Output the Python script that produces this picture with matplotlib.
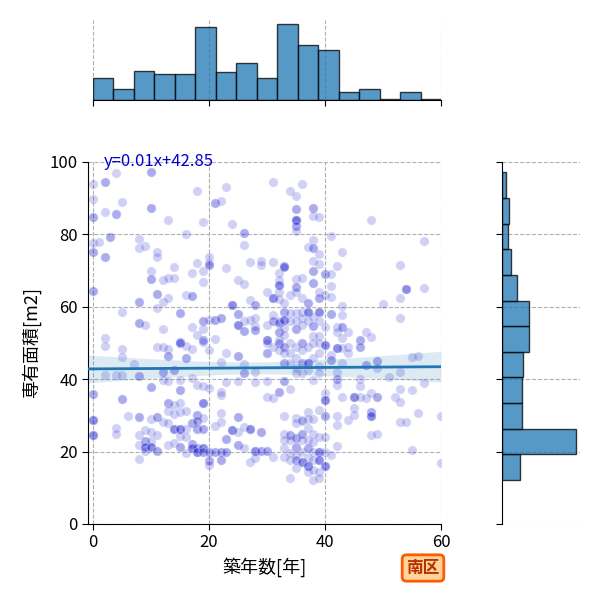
"""Joint plot: building age vs. floor area, with marginal histograms (南区)."""

import matplotlib

matplotlib.use("Agg")
import matplotlib.pyplot as plt
import numpy as np

plt.rcParams["font.family"] = ["Noto Sans CJK JP", "DejaVu Sans"]

# Scatter data: floor area [m2] per building age [year].
AGE_VALUES = [0, 1, 2, 3, 4, 5, 6, 7, 8, 9, 10, 11, 12, 13, 14, 15, 16, 17, 18, 19,
              20, 21, 22, 23, 24, 25, 26, 27, 28, 29, 30, 31, 32, 33, 34, 35, 36, 37,
              38, 39, 40, 41, 42, 43, 44, 45, 46, 47, 48, 49, 50, 51, 52, 53, 54, 55,
              56, 57, 60]
AREA_BY_AGE = [
    [94, 89.8, 84.9, 84.9, 77.5, 75, 75, 64.3, 64.3, 35.9, 35.9, 28.6, 28.6, 28.6, 24.6, 24.6, 24.6],
    [77.8],
    [94.4, 94.4, 86.1, 73.7, 73.7, 51.5, 49.2, 41.2],
    [79.3, 79.3],
    [96.9, 85.6, 85.6, 41.2, 26.4, 25],
    [88.9, 58.7, 48.3, 46.2, 41.2, 34.4, 34.4],
    [29.9],
    [44.2],
    [78.7, 76.2, 61.3, 61.3, 55.4, 55.4, 40.9, 40.9, 29.6, 29.6, 24.6, 21.9, 17.9],
    [76.9, 55, 26, 22.8, 22.8, 21.4, 21.4, 21.4, 20.2],
    [97.1, 97.1, 87.3, 87.3, 70, 67.6, 67.6, 37.8, 37.8, 29, 25.5, 22.8, 21.4, 21.4, 21.4],
    [75, 73.7, 63.6, 63.6, 59.6, 48.8, 29.5, 29.5, 24.6, 20.2, 20.2],
    [67.3, 61.4, 53.9, 49, 41.9, 41.9, 39.7, 28.1],
    [84, 68, 62.3, 48.3, 46.3, 46.3, 39.6, 33.3, 33.3, 31.1, 28, 21.7],
    [71, 68, 42.5, 42.5, 32.9, 30.5, 26.2, 26.2, 26.2, 22.4],
    [58.4, 58.4, 50.4, 50.4, 49.9, 49.9, 39.7, 36.9, 36.9, 33.5, 30.9, 26.2, 26.2, 26.2, 24.3,
     21.2, 21.2],
    [80, 63.3, 49.2, 45.8, 45.8, 31.3, 26.2, 23.9, 19.7],
    [69.3, 62.9, 62.9, 54.4, 48.3, 40.4, 27.9, 27.9, 22.1, 22.1, 21.1, 21.1, 21.1],
    [92, 72.2, 52.2, 38.5, 30.1, 30.1, 28.5, 28.5, 26.2, 26.2, 20.9, 20.9, 20, 20, 20],
    [83.3, 70, 66.9, 56.1, 56.1, 54, 50.9, 50.9, 50.4, 38, 33.5, 33.5, 33.5, 29.2, 26.2, 26.2,
     21, 21, 21, 20, 20],
    [73.8, 72, 71.5, 71.5, 56.4, 48.1, 37.5, 20, 20, 17.7, 17.5, 16.4],
    [88.6, 88.6, 56.4, 56.4, 51.2, 27.1, 20, 20],
    [89.2, 56.9, 56.9, 44.8, 36.4, 35.6, 30.6, 28.3, 20, 20, 17.7, 17.7],
    [93.2, 70.8, 47.3, 39.1, 23.6, 23.6, 20, 20],
    [82.8, 60.5, 60.5, 60.5, 26, 26, 26],
    [67.4, 58, 58, 55, 55, 55, 46.4, 46.4, 39.5, 29.6, 29.6, 25.5, 21.8, 21.8],
    [80.5, 80.5, 77.1, 66.2, 56.1, 53.3, 53.3, 44.2, 41.6, 41.6, 26.7, 20.9],
    [72.4, 61.9, 56.4, 26.2, 26.2, 26.2, 17.2],
    [60.6, 60.6, 57, 54.8, 53.6, 53.6, 41.9, 39.1, 20.2, 20.2, 20.2, 18.1],
    [72.7, 71.5, 25.3, 25.3, 20.2, 20.2],
    [64, 55, 50.8, 50.8, 50.8, 49.9, 47.2, 47.2, 39.5, 35, 20.2, 20.2],
    [94.6, 72.4, 62.5, 62.5, 62.5, 57.7, 56, 56, 48.8, 34.7, 18.4],
    [69.2, 67.4, 66, 66, 66, 64, 62.2, 56, 55.4, 55.4, 53, 53, 50.8, 50, 50, 48.1, 36.6, 36.6],
    [71.3, 71.3, 71.1, 71.1, 61, 58.7, 58.7, 56.4, 56.4, 56.4, 54.2, 52.3, 49, 49, 47.1, 44.4,
     44.4, 39.6, 39.6, 29.9, 25, 23.2, 20.9, 18.6],
    [92, 63.2, 58.2, 56, 49.9, 47.1, 44.4, 37.2, 24.6, 24.6, 23.2, 19.5, 17.7, 12.6],
    [90.7, 87, 87, 84, 84, 84, 84, 82.3, 82.3, 81, 67.7, 65.6, 65.6, 64.2, 58.2, 56, 53.9, 53.9,
     49, 45.8, 43, 41.6, 29.4, 27.8, 23.7, 23.7, 21.4, 21.4, 19.1, 17.7, 17.7, 15.4],
    [94, 68, 62.5, 58.7, 56.9, 55.1, 49.9, 49.9, 48.1, 44.4, 44.4, 41.6, 28.7, 28.5, 25, 25,
     23.2, 20, 17.2, 17.2, 17.2],
    [76.6, 61, 61, 58.7, 58.7, 58.7, 56, 49, 44.4, 44.4, 44.4, 42.5, 31, 29, 26.4, 23.2, 20.9,
     20.9, 18.1, 16, 16, 16, 14.5],
    [87.4, 87.4, 85.2, 78.4, 76.2, 76.2, 72.7, 69.9, 69.9, 66.5, 66.5, 57.3, 54.6, 54.6, 51.9,
     49.9, 45.8, 39.8, 29, 25, 22.7, 20, 17.7, 15, 12.1],
    [84.8, 74.5, 71.8, 64.2, 62.4, 62.4, 58.7, 58.7, 58.7, 56, 51.9, 49.9, 47.1, 43.6, 41.6,
     31.6, 24.1, 20, 20, 20, 17.7, 17.7, 17.7, 14.5, 12.6],
    [69, 69, 63.2, 54.5, 49.4, 49.4, 49.4, 36.1, 34.2, 34.2, 34.2, 29.9, 29.9, 24, 20, 16, 16, 16],
    [79.6, 69, 65.8, 62.8, 58.1, 58.1, 46.7, 45.3, 45.3, 19],
    [71.2, 54.5, 53, 48.5, 48.5, 48.5, 42.1, 40, 40, 38.4, 29.8, 27.3, 21.6],
    [75.2, 60.3, 57.6, 54.5, 54.5, 51.5, 48.5, 44.5, 35],
    [53, 48.8, 47.1, 28.7],
    [35, 35, 35, 32, 30.1],
    [50.8, 50.8, 48.8, 48.8, 40, 38.1, 35],
    [53.1, 43.9, 43.9, 34.7],
    [83.9, 51.7, 36.3, 31, 31, 29.8, 29.8, 29.8, 24.6],
    [45.1, 45.1, 43, 35, 35, 24.9],
    [60.7],
    [40.7],
    [35],
    [71.5, 62.3, 57, 42, 37.2, 33.8, 28.3],
    [64.9, 64.9, 64.9, 28.3],
    [46, 37, 20.4],
    [46.4, 30.6],
    [78.2, 65.1, 39],
    [29.8, 16.9],
]

# Regression shown on the chart
SLOPE = 0.01
INTERCEPT = 42.85

# Marginal histogram counts
AGE_BIN_RANGE = (0, 60)
AGE_COUNTS = [16, 8, 21, 19, 19, 53, 20, 27, 16, 55, 40, 36, 6, 8, 1, 6, 1]
AREA_BIN_RANGE = (12.15, 97.15)
AREA_COUNTS = [23, 95, 26, 25, 27, 34, 35, 19, 12, 8, 9, 5]  # bottom -> top

years = np.concatenate([[a] * len(v) for a, v in zip(AGE_VALUES, AREA_BY_AGE)]).astype(float)
areas = np.concatenate([np.asarray(v, float) for v in AREA_BY_AGE])

W, H = 600, 600
fig = plt.figure(figsize=(6, 6), dpi=100)
ax = fig.add_axes([88.3 / W, 76 / H, (441 - 88.3) / W, 362 / H])
ax_top = fig.add_axes([93 / W, 500 / H, (441 - 93) / W, 80 / H])
ax_right = fig.add_axes([502 / W, 76 / H, 78 / W, 362 / H])

grid_kw = dict(color="#b0b0b0", linestyle="--", linewidth=0.8)
hist_kw = dict(color="#1f77b4", alpha=0.75, edgecolor="black", linewidth=1.0)

# --- main scatter ---
ax.set_axisbelow(True)
ax.grid(True, **grid_kw)
ax.scatter(years, areas, s=42, color="mediumblue", alpha=0.18,
           edgecolors="#dde8f5", linewidths=0.9, zorder=2)

xlim = (-0.8, 60)
xs = np.linspace(xlim[0], xlim[1], 200)
fit = SLOPE * xs + INTERCEPT
n = len(years)
xm = years.mean()
sxx = ((years - xm) ** 2).sum()
resid = areas - (SLOPE * years + INTERCEPT)
s = np.sqrt((resid ** 2).sum() / (n - 2))
half = 1.96 * s * np.sqrt(1 / n + (xs - xm) ** 2 / sxx)
ax.fill_between(xs, fit - half, fit + half, color="#1f77b4", alpha=0.15,
                linewidth=0, zorder=3)
ax.plot(xs, fit, color="#1f77b4", linewidth=2, zorder=4)

ax.set_xlim(*xlim)
ax.set_ylim(0, 100)
ax.set_xticks([0, 20, 40, 60])
ax.set_yticks([0, 20, 40, 60, 80, 100])
ax.tick_params(labelsize=12, length=4)
for side in ("top", "right"):
    ax.spines[side].set_visible(False)
ax.set_xlabel("築年数[年]", fontsize=13)
ax.set_ylabel("専有面積[m2]", fontsize=13, labelpad=6)
ax.text(0.045, 1.0, f"y={SLOPE:.2f}x+{INTERCEPT:.2f}", transform=ax.transAxes,
        color="mediumblue", fontsize=12, va="center", ha="left")

# --- top marginal ---
edges = np.linspace(*AGE_BIN_RANGE, len(AGE_COUNTS) + 1)
ax_top.set_axisbelow(True)
ax_top.grid(True, axis="x", **grid_kw)
ax_top.bar(edges[:-1], AGE_COUNTS, width=np.diff(edges), align="edge", **hist_kw)
ax_top.set_xlim(*AGE_BIN_RANGE)
ax_top.set_ylim(0, max(AGE_COUNTS) * 1.05)
ax_top.set_xticks([0, 20, 40, 60])
ax_top.set_xticklabels([])
ax_top.set_yticks([])
ax_top.tick_params(length=4)
for side in ("top", "right", "left"):
    ax_top.spines[side].set_visible(False)

# --- right marginal ---
yedges = np.linspace(*AREA_BIN_RANGE, len(AREA_COUNTS) + 1)
ax_right.set_axisbelow(True)
ax_right.grid(True, axis="y", **grid_kw)
ax_right.barh(yedges[:-1], AREA_COUNTS, height=np.diff(yedges), align="edge", **hist_kw)
ax_right.set_ylim(0, 100)
ax_right.set_xlim(0, max(AREA_COUNTS) * 1.05)
ax_right.set_yticks([0, 20, 40, 60, 80, 100])
ax_right.set_yticklabels([])
ax_right.set_xticks([])
ax_right.tick_params(length=4)
for side in ("top", "right", "bottom"):
    ax_right.spines[side].set_visible(False)

# ward badge
fig.text(423 / W, 1 - 568 / H, "南区", fontsize=12, fontweight="bold",
         color="#b83200", ha="center", va="center",
         bbox=dict(boxstyle="round,pad=0.25", facecolor="#ffd49a",
                   edgecolor="#ff5a00", linewidth=2))

fig.savefig("out.png", dpi=100)
